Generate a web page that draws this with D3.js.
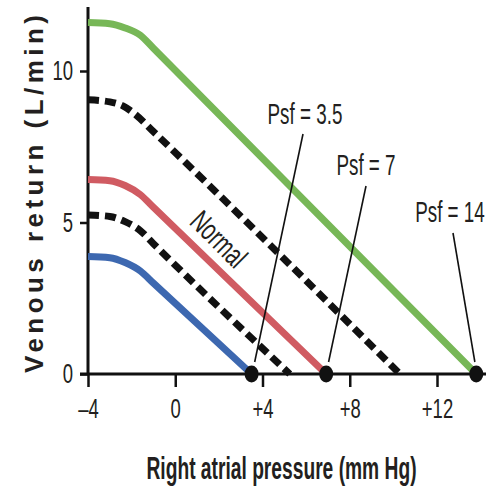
<!DOCTYPE html>
<html>
<head>
<meta charset="utf-8">
<script src="https://cdn.jsdelivr.net/npm/d3@7"></script>
<style>
  body { margin: 0; background: #fff; }
  svg { display: block; }
</style>
</head>
<body>
<svg width="493" height="488"></svg>
<script>
// curves: [right atrial pressure, venous return]
const highCurve = [[-4, 11.6], [-3, 11.56], [-2.3, 11.42], [-1.6, 11.18], [-1, 10.75], [13.8, 0]];
const upperDashed = [[-4, 9.05], [-3, 8.98], [-2.4, 8.85], [-1.8, 8.55], [-1, 8.0], [10.3, 0]];
const normalCurve = [[-4, 6.42], [-3, 6.38], [-2.3, 6.22], [-1.6, 5.92], [-1, 5.5], [6.92, 0]];
const lowerDashed = [[-4, 5.25], [-3, 5.2], [-2.3, 5.03], [-1.6, 4.73], [-1, 4.3], [5.25, 0]];
const lowCurve = [[-4, 3.88], [-3, 3.84], [-2.3, 3.68], [-1.6, 3.4], [-1, 3.0], [3.5, 0]];

const psfPoints = [3.5, 6.92, 13.8];
const psfLabels = ['Psf = 3.5', 'Psf = 7', 'Psf = 14'];

const xTicks = [-4, 0, 4, 8, 12];
const xTickLabels = ['\u20134', '0', '+4', '+8', '+12'];
const yTicks = [0, 5, 10];

const svg = d3.select('svg');
const textColor = '#231f20';
const font = '"Liberation Sans", Arial, sans-serif';

const x = d3.scaleLinear().domain([-4, 12]).range([88, 437]);
const y = d3.scaleLinear().domain([0, 10]).range([374, 71]);

// squeeze text horizontally around its own x, like the condensed face
function condense(sel, k) {
    sel.each(function () {
        const t = d3.select(this);
        const cx = +t.attr('x') || 0;
        const prev = t.attr('transform') || '';
        t.attr('transform', `${prev} translate(${cx},0) scale(${k},1) translate(${-cx},0)`);
    });
}

// axes
const xAxis = svg.append('g')
    .attr('transform', `translate(0,${y(0)})`)
    .call(d3.axisBottom(x).tickValues(xTicks).tickSize(13).tickPadding(12)
        .tickFormat((d, i) => xTickLabels[i]));
xAxis.select('.domain').attr('d', `M80,0H486`).attr('stroke', '#111').attr('stroke-width', 3);
xAxis.selectAll('.tick line').attr('stroke', '#111').attr('stroke-width', 2.5);
xAxis.selectAll('.tick text')
    .attr('fill', textColor)
    .style('font-family', font)
    .style('font-size', '28px')
    .attr('dy', '0.68em')
    .call(condense, 0.66);

const yAxis = svg.append('g')
    .attr('transform', `translate(${x(-4)},0)`)
    .call(d3.axisLeft(y).tickValues(yTicks).tickSize(8).tickPadding(7));
yAxis.select('.domain').attr('d', `M0,7V${y(0)}`).attr('stroke', '#111').attr('stroke-width', 3);
yAxis.selectAll('.tick line').attr('stroke', '#111').attr('stroke-width', 2.5);
yAxis.selectAll('.tick text')
    .attr('fill', textColor)
    .style('font-family', font)
    .style('font-size', '28px')
    .call(condense, 0.66);

// curves
const line = d3.line().x(d => x(d[0])).y(d => y(d[1])).curve(d3.curveMonotoneX);

const series = [
    {data: highCurve, color: '#77b757', dash: null},
    {data: upperDashed, color: '#111', dash: '11,6'},
    {data: normalCurve, color: '#d05b62', dash: null},
    {data: lowerDashed, color: '#111', dash: '11,6'},
    {data: lowCurve, color: '#3d68b0', dash: null}
];
series.forEach(s => {
    svg.append('path')
        .attr('d', line(s.data))
        .attr('fill', 'none')
        .attr('stroke', s.color)
        .attr('stroke-width', 7)
        .attr('stroke-dasharray', s.dash);
});

// Psf labels with leader lines
const labelPos = [[305, 124], [366, 175], [450, 222]];
const leaderTop = [[303, 134], [366, 186], [453, 233]];
psfPoints.forEach((p, i) => {
    const cx = x(p), cy = y(0);
    svg.append('line')
        .attr('x1', leaderTop[i][0]).attr('y1', leaderTop[i][1])
        .attr('x2', cx + (leaderTop[i][0] - cx) * 0.06).attr('y2', cy - 12)
        .attr('stroke', '#111').attr('stroke-width', 1.6);
    svg.append('ellipse')
        .attr('cx', cx).attr('cy', cy)
        .attr('rx', 7).attr('ry', 8.5)
        .attr('fill', '#111');
    svg.append('text')
        .attr('x', labelPos[i][0]).attr('y', labelPos[i][1])
        .attr('text-anchor', 'middle')
        .attr('fill', textColor)
        .style('font-family', font)
        .style('font-size', '29px')
        .text(psfLabels[i])
        .call(condense, 0.65);
});

// "Normal" label along the red curve
svg.append('text')
    .attr('transform', 'translate(219,239) rotate(45)')
    .attr('text-anchor', 'middle')
    .attr('dy', '0.35em')
    .attr('fill', textColor)
    .style('font-family', font)
    .style('font-size', '30px')
    .text('Normal')
    .call(condense, 0.68);

// axis titles
svg.append('text')
    .attr('x', 281.5).attr('y', 479)
    .attr('text-anchor', 'middle')
    .attr('fill', textColor)
    .style('font-family', font)
    .style('font-weight', 'bold')
    .style('font-size', '31px')
    .text('Right atrial pressure (mm Hg)')
    .call(condense, 0.62);

svg.append('text')
    .attr('transform', 'translate(43,194) rotate(-90)')
    .attr('text-anchor', 'middle')
    .attr('fill', textColor)
    .style('font-family', font)
    .style('font-weight', 'bold')
    .style('font-size', '26px')
    .attr('textLength', 358).attr('lengthAdjust', 'spacing')
    .text('Venous return (L/min)');
</script>
</body>
</html>
